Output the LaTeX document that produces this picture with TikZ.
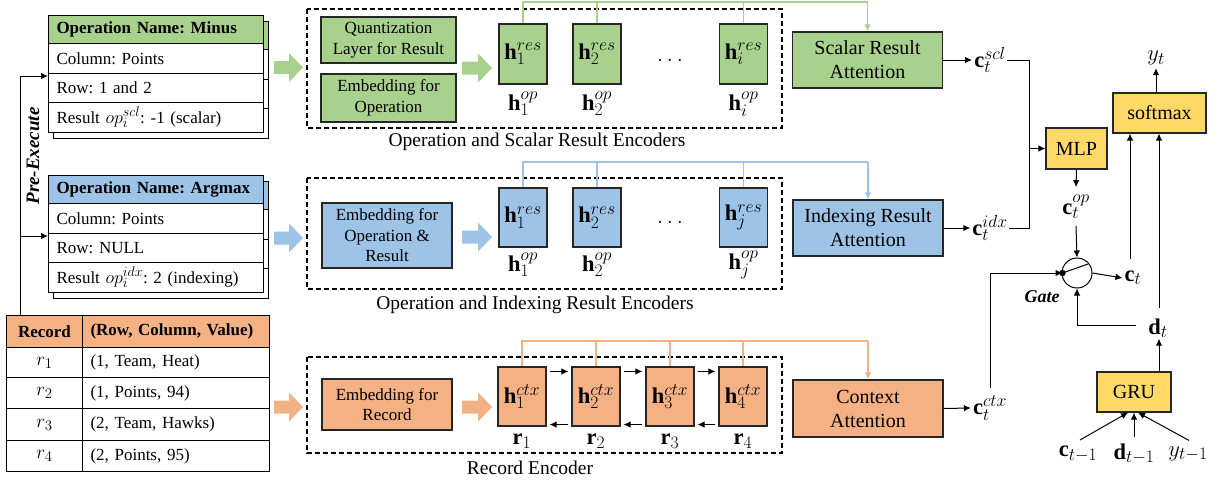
\RequirePackage{fix-cm}
\documentclass[tikz,border=0pt]{standalone}
\usepackage{fontspec}
\setmainfont{Liberation Serif}
\usetikzlibrary{calc,arrows.meta}
\definecolor{cg}{HTML}{A9D18E}
\definecolor{cb}{HTML}{9DC3E6}
\definecolor{co}{HTML}{F4B183}
\definecolor{cy}{HTML}{FFD966}
\renewcommand\defaultscriptratio{.78}
\renewcommand\defaultscriptscriptratio{.6}
\frenchspacing
\newcommand\fsz[2]{\fontsize{#1}{#2}\selectfont}
\newcommand\fatarrow[4]{%
  \fill[#1] (#2,#4-6.5) -- (#3-14,#4-6.5) -- (#3-14,#4-14.5) -- (#3,#4) -- (#3-14,#4+14.5) -- (#3-14,#4+6.5) -- (#2,#4+6.5) -- cycle;}
\begin{document}
\begin{tikzpicture}[x=1pt,y=-1pt,
  every node/.style={inner sep=0pt, font=\fsz{17}{20}},
  ln/.style={line width=1pt, draw=black},
  arr/.style={line width=1pt, draw=black, -{Latex[length=7pt,width=6.5pt]}},
  cell/.style={draw=black, line width=1pt, anchor=north west, align=left, inner xsep=8pt, inner ysep=0pt},
  ccell/.style={draw=black, line width=1pt, anchor=north west, align=center, inner sep=0pt},
  blk/.style={draw=black!85, line width=1.1pt, align=center, font=\fsz{17}{20.5}},
  att/.style={draw=black!85, line width=1.1pt, align=center, font=\fsz{20}{24}, minimum width=150pt},
  hbox/.style={draw=black!85, line width=1.1pt, minimum width=48pt, font=\fsz{22.5}{24}},
  mlab/.style={font=\fsz{22.5}{24}},
  dbox/.style={draw=black, line width=1.1pt, dash pattern=on 5pt off 3pt},
  captxt/.style={font=\fsz{19.5}{22}},
  gl/.style={draw=cg, line width=1.2pt},
  bl/.style={draw=cb, line width=1.2pt},
  ol/.style={draw=co, line width=1.2pt},
]
\useasboundingbox (0,0) rectangle (1219,482);

% ---------- Minus table ----------
\begin{scope}[shift={(5,6)}]
  \draw[ln, fill=white] (48,15) rectangle (263,132);
  \draw[ln, fill=cg] (48,15) rectangle (263,43);
  \draw[ln] (48,73) -- (263,73) (48,102) -- (263,102);
\end{scope}
\node[cell, fill=cg, text width=199pt, minimum height=28pt] (m0) at (48,15) {\textbf{Operation Name: Minus}};
\node[cell, fill=white, text width=199pt, minimum height=30pt] (m1) at (48,43) {Column: Points};
\node[cell, fill=white, text width=199pt, minimum height=29pt] (m2) at (48,73) {Row: 1 and 2};
\node[cell, fill=white, text width=199pt, minimum height=30pt] (m3) at (48,102) {Result {\fsz{18}{20}$op_i^{scl}$}: -1 (scalar)};

% ---------- Argmax table ----------
\begin{scope}[shift={(5,6)}]
  \draw[ln, fill=white] (48,175) rectangle (263,292);
  \draw[ln, fill=cb] (48,175) rectangle (263,203);
  \draw[ln] (48,233) -- (263,233) (48,262) -- (263,262);
\end{scope}
\node[cell, fill=cb, text width=199pt, minimum height=28pt] (a0) at (48,175) {\textbf{Operation Name: Argmax}};
\node[cell, fill=white, text width=199pt, minimum height=30pt] (a1) at (48,203) {Column: Points};
\node[cell, fill=white, text width=199pt, minimum height=29pt] (a2) at (48,233) {Row: NULL};
\node[cell, fill=white, text width=199pt, minimum height=30pt] (a3) at (48,262) {Result {\fsz{18}{20}$op_i^{idx}$}: 2 (indexing)};

% ---------- Record table ----------
\node[ccell, fill=co, minimum width=76pt, minimum height=32pt] (r0a) at (6,315) {\textbf{Record}};
\node[cell, fill=co, text width=171pt, minimum height=32pt] (r0b) at (82,315) {\textbf{(Row, Column, Value)}};
\node[ccell, minimum width=76pt, minimum height=30pt, font=\fsz{19}{20}] (r1a) at (6,347) {$r_1$};
\node[cell, text width=171pt, minimum height=30pt] (r1b) at (82,347) {(1, Team, Heat)};
\node[ccell, minimum width=76pt, minimum height=31pt, font=\fsz{19}{20}] (r2a) at (6,377) {$r_2$};
\node[cell, text width=171pt, minimum height=31pt] (r2b) at (82,377) {(1, Points, 94)};
\node[ccell, minimum width=76pt, minimum height=32pt, font=\fsz{19}{20}] (r3a) at (6,408) {$r_3$};
\node[cell, text width=171pt, minimum height=32pt] (r3b) at (82,408) {(2, Team, Hawks)};
\node[ccell, minimum width=76pt, minimum height=31pt, font=\fsz{19}{20}] (r4a) at (6,440) {$r_4$};
\node[cell, text width=171pt, minimum height=31pt] (r4b) at (82,440) {(2, Points, 95)};

% ---------- Pre-Execute ----------
\coordinate (pebot) at ($(r0a.north west)+(14.5,0)$);
\coordinate (pemid) at ($(pebot |- a1.south west)+(0,2)$);
\draw[arr] (pebot) |- ([yshift=-2pt]m1.south west);
\draw[arr] (pemid) -- ([yshift=-2pt]a1.south west);
\node[rotate=90, font=\fsz{19}{20}\bfseries\itshape] (pe) at (33,156) {Pre-Execute};

% ---------- fat arrows ----------
\fatarrow{cg}{274}{303}{67.5}
\fatarrow{cg}{462}{492}{68}
\fatarrow{cb}{274}{303}{238}
\fatarrow{cb}{462}{492}{237}
\fatarrow{co}{274}{303}{407}
\fatarrow{co}{462}{492}{407}

% ---------- dashed boxes ----------
\draw[dbox] (307,9) rectangle (782,128);
\draw[dbox] (307,178) rectangle (782,289);
\draw[dbox] (307,357) rectangle (782,453);
\node[captxt] (cap1) at (537,142) {Operation and Scalar Result Encoders};
\node[captxt] (cap2) at (535,305) {Operation and Indexing Result Encoders};
\node[captxt] (cap3) at (530,468) {Record Encoder};

% ---------- green encoder ----------
\node[blk, fill=cg, minimum width=135pt, minimum height=46pt] (quant) at (388.5,40) {Quantization\\Layer for Result};
\node[blk, fill=cg, minimum width=135pt, minimum height=48pt] (embop) at (388.5,98) {Embedding for\\Operation};
\node[hbox, fill=cg, minimum height=60pt] (g1) at (523,54) {$\mathbf{h}_1^{res}$};
\node[hbox, fill=cg, minimum height=60pt] (g2) at (597,54) {$\mathbf{h}_2^{res}$};
\node[hbox, fill=cg, minimum height=60pt] (g3) at (743.5,54) {$\mathbf{h}_i^{res}$};
\node[mlab] (gd) at (670,60) {$\ldots$};
\node[mlab] (g1o) at (523,104) {$\mathbf{h}_1^{op}$};
\node[mlab] (g2o) at (597,104) {$\mathbf{h}_2^{op}$};
\node[mlab] (g3o) at (743.5,104) {$\mathbf{h}_i^{op}$};

% ---------- blue encoder ----------
\node[blk, fill=cb, minimum width=130pt, minimum height=65pt] (embopr) at (387,235.5) {Embedding for\\Operation \&\\Result};
\node[hbox, fill=cb, minimum height=59pt] (b1) at (523,217.5) {$\mathbf{h}_1^{res}$};
\node[hbox, fill=cb, minimum height=59pt] (b2) at (597,217.5) {$\mathbf{h}_2^{res}$};
\node[hbox, fill=cb, minimum height=59pt] (b3) at (743.5,217.5) {$\mathbf{h}_j^{res}$};
\node[mlab] (bd) at (670,222) {$\ldots$};
\node[mlab] (b1o) at (523,265) {$\mathbf{h}_1^{op}$};
\node[mlab] (b2o) at (597,265) {$\mathbf{h}_2^{op}$};
\node[mlab] (b3o) at (743.5,265) {$\mathbf{h}_j^{op}$};

% ---------- orange encoder ----------
\node[blk, fill=co, minimum width=130pt, minimum height=51pt] (embrec) at (387,404.5) {Embedding for\\Record};
\node[hbox, fill=co, minimum height=59pt] (o1) at (522,396.5) {$\mathbf{h}_1^{ctx}$};
\node[hbox, fill=co, minimum height=59pt] (o2) at (596,396.5) {$\mathbf{h}_2^{ctx}$};
\node[hbox, fill=co, minimum height=59pt] (o3) at (670,396.5) {$\mathbf{h}_3^{ctx}$};
\node[hbox, fill=co, minimum height=59pt] (o4) at (743,396.5) {$\mathbf{h}_4^{ctx}$};
\node[mlab] (o1r) at (522,441) {$\mathbf{r}_1$};
\node[mlab] (o2r) at (596,441) {$\mathbf{r}_2$};
\node[mlab] (o3r) at (670,441) {$\mathbf{r}_3$};
\node[mlab] (o4r) at (743,441) {$\mathbf{r}_4$};
\foreach \a/\b in {o1/o2,o2/o3,o3/o4}{
  \draw[arr] ($(\a.north east)+(3,5)$) -- ($(\b.north west)+(-3,5)$);
  \draw[arr] ($(\b.south west)+(-3,-2)$) -- ($(\a.south east)+(3,-2)$);
}

% ---------- attention boxes ----------
\node[att, fill=cg, minimum height=56pt] (sclatt) at (867.5,60) {Scalar Result\\Attention};
\node[att, fill=cb, minimum height=56pt] (idxatt) at (868,228) {Indexing Result\\Attention};
\node[att, fill=co, minimum height=57pt] (ctxatt) at (868,408.5) {Context\\Attention};

% colored collectors
\coordinate (gtop) at (sclatt.north |- 0,2);
\draw[gl] (g1.north) |- (gtop);
\draw[gl] (g2.north) -- (g2.north |- gtop);
\draw[gl] (g3.north) -- (g3.north |- gtop);
\draw[gl, -{Latex[length=7pt,width=6.5pt]}] (gtop) -- (sclatt.north);
\coordinate (btop) at (idxatt.north |- 0,162);
\draw[bl] (b1.north) |- (btop);
\draw[bl] (b2.north) -- (b2.north |- btop);
\draw[bl] (b3.north) -- (b3.north |- btop);
\draw[bl, -{Latex[length=7pt,width=6.5pt]}] (btop) -- (idxatt.north);
\coordinate (otop) at (ctxatt.north |- 0,341);
\draw[ol] (o1.north) |- (otop);
\draw[ol] (o2.north) -- (o2.north |- otop);
\draw[ol] (o3.north) -- (o3.north |- otop);
\draw[ol] (o4.north) -- (o4.north |- otop);
\draw[ol, -{Latex[length=7pt,width=6.5pt]}] (otop) -- (ctxatt.north);

% ---------- context labels ----------
\node[mlab] (cscl) at (990,60) {$\mathbf{c}_t^{scl}$};
\node[mlab] (cidx) at (990,228) {$\mathbf{c}_t^{idx}$};
\node[mlab] (cctx) at (990,408) {$\mathbf{c}_t^{ctx}$};
\draw[arr] (sclatt.east) -- ([xshift=-2pt]cscl.west);
\draw[arr] (idxatt.east) -- ([xshift=-2pt]cidx.west);
\draw[arr] (ctxatt.east) -- ([xshift=-2pt]cctx.west);

% ---------- right side ----------
\node[blk, fill=cy, font=\fsz{20}{24}, minimum width=61pt, minimum height=41pt] (mlp) at (1076.5,148.5) {MLP};
\node[blk, fill=cy, font=\fsz{20}{24}, minimum width=93pt, minimum height=40pt] (sm) at (1159.5,113) {softmax};
\node[blk, fill=cy, font=\fsz{20}{24}, minimum width=74pt, minimum height=40pt] (gru) at (1134,392) {GRU};
\coordinate (jn) at (1029,148.5);
\draw[ln] ([xshift=1pt]cscl.east) -| (jn);
\draw[ln] ([xshift=1pt]cidx.east) -| (jn);
\draw[arr] (jn) -- (mlp.west);
\node[mlab] (cop) at (1076,207) {$\mathbf{c}_t^{op}$};
\draw[arr] (mlp.south) -- ([yshift=8pt]cop.north);
\node[circle, draw=black, line width=1pt, minimum size=30pt] (gate) at (1077,273) {};
\draw[arr] ([yshift=-7pt]cop.south) -- (gate.north);
\draw[arr] ([yshift=8pt]cctx.north) |- ([xshift=1pt]gate.west);
\fill ([xshift=1pt]gate.west) circle (3.2);
\draw[ln] ([xshift=1pt]gate.west) -- ($(gate.center)+(11,-9)$);
\node[font=\fsz{18}{20}\bfseries\itshape] (gatel) at (1042,297) {Gate};
\node[mlab] (ct) at (1133,278) {$\mathbf{c}_t$};
\draw[arr] (gate.east) -- ([xshift=-2pt]ct.west);
\draw[arr] ([xshift=-3pt,yshift=12pt]ct.north) -- ([xshift=-3pt]ct.north |- sm.south);
\node[mlab] (dt) at (1158,328) {$\mathbf{d}_t$};
\draw[arr] ([xshift=1pt,yshift=10pt]dt.north) -- ([xshift=1pt]dt.north |- sm.south);
\draw[arr] ([xshift=-12pt,yshift=3pt]dt.west) -| (gate.south);
\draw[arr] ([xshift=25pt]gru.north) -- ([xshift=25pt,yshift=-1pt]gru.north |- dt.south);
\node[mlab] (yt) at (1156,58) {$y_t$};
\draw[arr] ([xshift=-3.5pt]sm.north) -- ([xshift=-3.5pt,yshift=-3pt]sm.north |- yt.south);
\node[mlab] (cm1) at (1078,454) {$\mathbf{c}_{t-1}$};
\node[mlab] (dm1) at (1134,454) {$\mathbf{d}_{t-1}$};
\node[mlab] (ym1) at (1188,454) {$y_{t-1}$};
\draw[arr] ([xshift=2pt,yshift=6pt]cm1.north) -- ([xshift=-6pt]gru.south);
\draw[arr] ([yshift=6pt]dm1.north) -- (gru.south);
\draw[arr] ([xshift=1pt,yshift=6pt]ym1.north) -- ([xshift=4pt]gru.south);
\end{tikzpicture}
\end{document}
